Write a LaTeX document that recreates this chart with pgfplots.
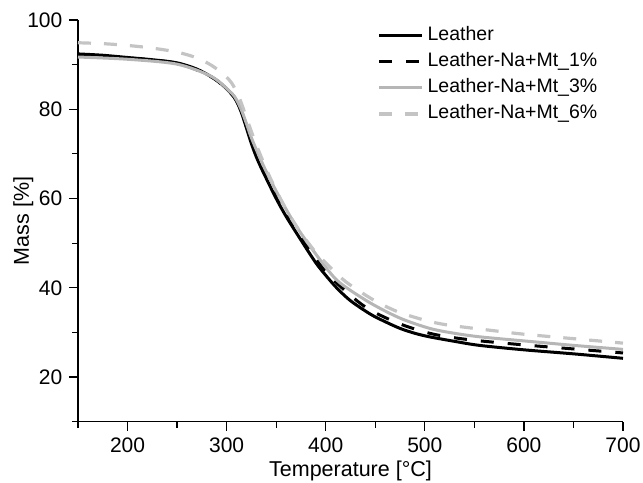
\documentclass[border=0pt]{standalone}
\usepackage{pgfplots}
\pgfplotsset{compat=1.18}
\usepackage{fontspec}
\setmainfont{Liberation Sans}
\definecolor{grayA}{RGB}{182,182,182}
\definecolor{grayB}{RGB}{196,196,196}

\begin{document}
\fontsize{19.5}{23}\selectfont
\begin{tikzpicture}
\begin{axis}[
    name=ax,
    scale only axis,
    width=545pt, height=401.7pt,
    xmin=150, xmax=700, ymin=10, ymax=100,
    axis lines*=left,
    axis line style={line width=1.3pt},
    tick style={black, line width=1.2pt},
    tick align=outside,
    major tick length=9pt, minor tick length=6pt,
    xtick={200,300,...,700}, minor xtick={150,250,...,650},
    ytick={20,40,...,100}, minor ytick={10,30,...,90},
    /pgf/number format/assume math mode=true,
    tick label style={font=\fontsize{21}{24}\selectfont},
    xlabel={Temperature [°C]}, ylabel={Mass [\%]},
    every axis x label/.style={at={(axis description cs:0.5,0)}, anchor=base,
        yshift=-55.3pt, font=\fontsize{21.5}{25}\selectfont},
    every axis y label/.style={at={(axis description cs:0,0.5)}, xshift=-49pt,
        rotate=90, anchor=base, font=\fontsize{21.5}{25}\selectfont},
    legend style={draw=none, fill=none, at={(axis cs:452,98.7)}, anchor=north west,
        inner sep=0pt, row sep=6.5pt, font=\fontsize{19.5}{23}\selectfont,
        nodes={inner sep=1pt, text height=13.6pt, text depth=4pt}},
    legend cell align=left,
    legend image code/.code={\draw[#1] (0pt,0pt) -- (43pt,0pt); \path (46pt,0pt);},
    clip=false,
]
\addplot[black, line width=3pt, smooth] coordinates {
 (150,92.4) (175,92.1) (200,91.6) (225,91.1) (250,90.4) (270,89.0) (285,87.2)
 (295,85.6) (305,83.4) (310,81.8) (315,79.2) (320,75.8) (325,72.3) (330,69.3)
 (335,66.8) (340,64.5) (350,60.0) (360,56.0) (375,50.7) (390,45.6) (400,42.8)
 (411,40.0) (425,37.1) (445,34.1) (460,32.4) (475,30.9) (490,29.8) (505,29.0)
 (530,28.0) (555,27.1) (600,26.1) (650,25.2) (700,24.2)
};
\addlegendentry{Leather}
\addplot[black, line width=3pt, dash pattern=on 13pt off 14pt, smooth] coordinates {
 (150,92.2) (200,91.5) (250,90.3) (285,87.2) (305,83.4) (310,81.9) (315,79.4)
 (320,76.2) (325,72.8) (335,67.3) (345,62.8) (360,56.7) (375,51.4) (400,43.6)
 (425,38.3) (445,35.0) (475,31.9) (505,29.8) (530,28.8) (556,28.1) (600,27.2)
 (650,26.3) (700,25.4)
};
\addlegendentry{Leather-Na+Mt\_1\%}
\addplot[grayA, line width=3pt, smooth] coordinates {
 (150,91.7) (200,91.2) (250,90.1) (285,87.3) (305,83.6) (310,82.1) (315,79.8)
 (320,76.8) (325,73.6) (335,68.4) (345,63.8) (360,57.6) (375,52.2) (400,44.6)
 (415,41.0) (445,36.6) (475,33.2) (505,30.9) (530,29.8) (556,29.0) (600,28.1)
 (650,27.1) (700,26.2)
};
\addlegendentry{Leather-Na+Mt\_3\%}
\addplot[grayB, line width=3.2pt, dash pattern=on 13pt off 13pt, smooth] coordinates {
 (150,94.9) (175,94.7) (200,94.3) (225,93.7) (250,92.8) (270,91.5) (285,89.8)
 (297,87.8) (305,85.9) (312,83.0) (318,79.4) (324,75.6) (330,72.0) (340,66.6)
 (350,61.8) (362,56.8) (375,52.3) (390,47.9) (400,45.6) (420,41.4) (448,37.3)
 (472,34.7) (499,32.8) (522,31.7) (569,30.4) (600,29.6) (650,28.6) (700,27.6)
};
\addlegendentry{Leather-Na+Mt\_6\%}
\end{axis}
\pgfresetboundingbox
\path ([shift={(-78pt,-61.3pt)}]ax.south west) rectangle ([shift={(20pt,20pt)}]ax.north east);
\end{tikzpicture}
\end{document}
